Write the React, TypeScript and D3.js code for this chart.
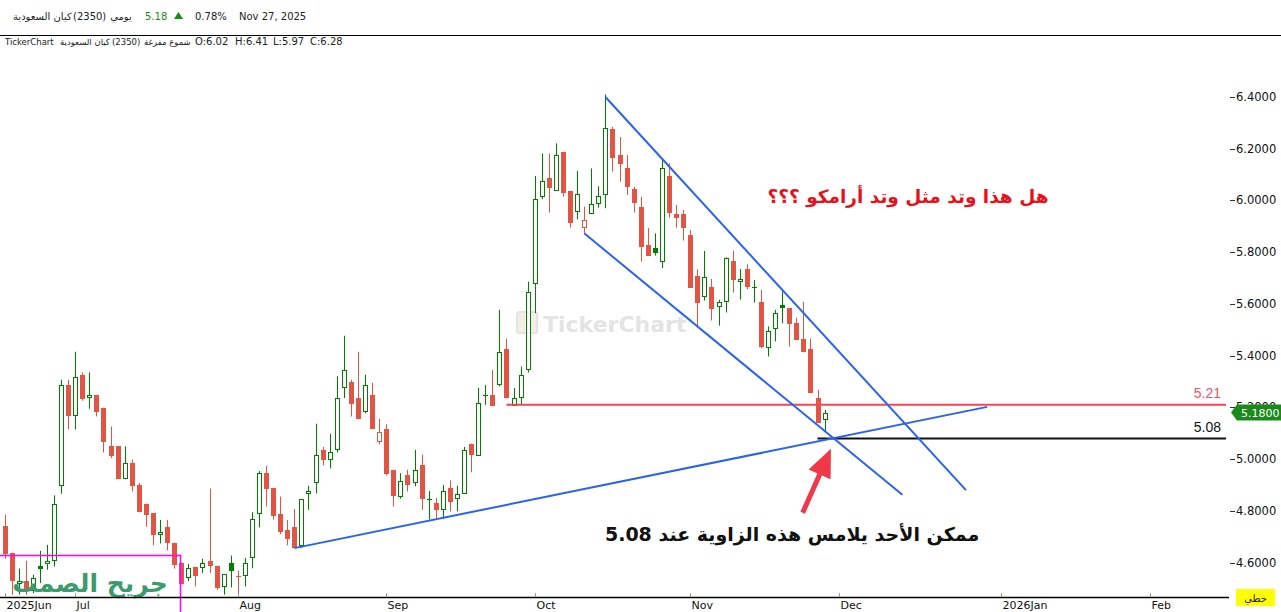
import React, { useEffect, useRef } from 'react';
import * as d3 from 'd3';

// daily candles, 2025 Jun -> Nov 27 (Tadawul trading days)
const opens = [
  4.74, 4.638, 4.517, 4.53, 4.489, 4.588, 4.595, 4.606, 4.896, 5.287,
  5.165, 5.326, 5.236, 5.249, 5.199, 5.049, 5.049, 4.922, 4.986, 4.899,
  4.828, 4.79, 4.705, 4.739, 4.677, 4.6, 4.54, 4.582, 4.579, 4.607,
  4.588, 4.506, 4.598, 4.549, 4.547, 4.616, 4.788, 4.946, 4.889, 4.789,
  4.727, 4.739, 4.665, 4.865, 4.906, 5.036, 4.996, 5.035, 5.275, 5.299,
  5.237, 5.184, 5.249, 5.065, 5.117, 4.959, 4.852, 4.94, 4.908, 4.978,
  4.845, 4.829, 4.804, 4.889, 4.846, 4.865, 5.06, 5.014, 5.247, 5.249,
  5.287, 5.425, 5.206, 5.236, 5.343, 5.676, 6.012, 6.086, 6.036, 6.188,
  6.037, 5.954, 5.893, 5.947, 5.985, 6.02, 6.275, 6.176, 6.124, 6.044,
  5.975, 5.828, 5.815, 5.764, 6.095, 5.948, 5.948, 5.867, 5.708, 5.628,
  5.667, 5.587, 5.607, 5.766, 5.684, 5.735, 5.665, 5.608, 5.431, 5.502,
  5.596, 5.583, 5.528, 5.465, 5.426, 5.238, 5.15,
];
const highs = [
  4.785, 4.638, 4.577, 4.607, 4.553, 4.646, 4.669, 4.86, 5.307, 5.307,
  5.415, 5.335, 5.335, 5.249, 5.199, 5.126, 5.049, 5.049, 4.998, 4.908,
  4.828, 4.79, 4.765, 4.765, 4.677, 4.6, 4.595, 4.582, 4.615, 4.886,
  4.588, 4.556, 4.627, 4.569, 4.618, 4.795, 4.954, 4.975, 4.889, 4.855,
  4.765, 4.807, 4.846, 4.897, 5.137, 5.047, 5.098, 5.32, 5.477, 5.307,
  5.415, 5.326, 5.295, 5.156, 5.135, 4.959, 4.946, 4.959, 5.036, 5.017,
  4.877, 4.85, 4.9, 4.918, 4.897, 5.047, 5.06, 5.276, 5.287, 5.345,
  5.577, 5.465, 5.275, 5.358, 5.686, 6.095, 6.182, 6.182, 6.221, 6.188,
  6.037, 6.114, 5.976, 6.124, 6.055, 6.41, 6.284, 6.245, 6.176, 6.053,
  6.014, 5.894, 5.873, 6.159, 6.144, 5.983, 5.963, 5.886, 5.734, 5.805,
  5.697, 5.616, 5.78, 5.805, 5.735, 5.753, 5.693, 5.654, 5.513, 5.577,
  5.654, 5.583, 5.547, 5.608, 5.465, 5.268, 5.19,
];
const lows = [
  4.615, 4.475, 4.476, 4.475, 4.482, 4.521, 4.573, 4.585, 4.866, 5.115,
  5.115, 5.226, 5.195, 5.165, 5.026, 5.004, 4.924, 4.922, 4.875, 4.794,
  4.738, 4.667, 4.674, 4.647, 4.577, 4.516, 4.528, 4.508, 4.56, 4.56,
  4.495, 4.476, 4.504, 4.47, 4.508, 4.578, 4.736, 4.817, 4.766, 4.71,
  4.667, 4.656, 4.656, 4.804, 4.868, 4.976, 4.964, 5.026, 5.236, 5.165,
  5.154, 5.177, 5.115, 5.058, 4.937, 4.817, 4.847, 4.875, 4.895, 4.804,
  4.766, 4.772, 4.768, 4.798, 4.798, 4.865, 4.949, 5.014, 5.21, 5.206,
  5.281, 5.236, 5.206, 5.21, 5.335, 5.564, 6.005, 5.953, 6.036, 6.015,
  5.895, 5.927, 5.873, 5.947, 5.972, 5.97, 6.112, 6.073, 6.021, 5.953,
  5.764, 5.787, 5.787, 5.738, 5.934, 5.895, 5.845, 5.663, 5.513, 5.613,
  5.536, 5.516, 5.567, 5.644, 5.617, 5.657, 5.605, 5.429, 5.397, 5.455,
  5.525, 5.435, 5.461, 5.413, 5.255, 5.14, 5.107,
];
const closes = [
  4.635, 4.528, 4.53, 4.489, 4.54, 4.575, 4.607, 4.828, 5.287, 5.165,
  5.317, 5.233, 5.248, 5.184, 5.065, 5.013, 4.924, 4.985, 4.895, 4.794,
  4.785, 4.705, 4.719, 4.674, 4.592, 4.516, 4.579, 4.547, 4.598, 4.585,
  4.502, 4.556, 4.566, 4.549, 4.598, 4.768, 4.946, 4.883, 4.779, 4.717,
  4.692, 4.656, 4.846, 4.877, 5.017, 4.995, 5.027, 5.236, 5.344, 5.214,
  5.154, 5.286, 5.115, 5.105, 4.944, 4.856, 4.914, 4.899, 4.959, 4.844,
  4.846, 4.804, 4.877, 4.835, 4.865, 5.036, 5.017, 5.217, 5.249, 5.206,
  5.416, 5.236, 5.238, 5.326, 5.645, 6.005, 6.075, 6.047, 6.175, 6.028,
  5.914, 6.024, 5.923, 5.985, 6.016, 6.28, 6.166, 6.141, 6.053, 5.992,
  5.822, 5.787, 5.796, 6.124, 5.953, 5.934, 5.895, 5.663, 5.605, 5.706,
  5.581, 5.608, 5.777, 5.693, 5.697, 5.665, 5.666, 5.435, 5.496, 5.564,
  5.583, 5.522, 5.461, 5.413, 5.255, 5.14, 5.18,
];

const monthLabels = ['2025Jun', 'Jul', 'Aug', 'Sep', 'Oct', 'Nov', 'Dec', '2026Jan', 'Feb'];
const monthIndex = [0, 10, 33, 54, 75, 97, 118, 141, 162];
const priceTicks = [4.6, 4.8, 5.0, 5.2, 5.4, 5.6, 5.8, 6.0, 6.2, 6.4];

// drawn trend lines: [startIndex, startPrice, endIndex, endPrice]
const supportLine = [41, 4.656, 139, 5.202];
const channelTop = [85, 6.4, 136, 4.88];
const channelBottom = [82, 5.873, 127, 4.862];
const redLevel = 5.21;
const redLevelFrom = 71;
const blackLevel = 5.08;
const blackLevelFrom = 115;
const lastPrice = 5.18;
// arrow: [tailIndex, tailPrice, tipIndex, tipPrice]
const arrow = [112.9, 4.793, 116.9, 5.04];

const GREEN = '#008000';
const RED = '#e25545';
const BLUE = '#2a64ec';
const W = 1281;
const H = 612;

const App: React.FC = () => {
    const ref = useRef<SVGSVGElement>(null);

    useEffect(() => {
        if (!ref.current) return;
        document.body.style.margin = '0';
        const svg = d3.select(ref.current);
        svg.selectAll('*').remove();

        const plotRight = 1226;
        const axisY = 597;
        const x = d3.scaleLinear().domain([0, 162]).range([4.5, 1149.8]);
        const y = d3.scaleLinear().domain([4.6, 6.4]).range([562.6, 97]);

        svg.append('rect').attr('width', W).attr('height', H).attr('fill', '#fff');

        // header
        const hdr = svg.append('g').style('font-family', 'DejaVu Sans').style('font-size', '10px').attr('fill', '#222');
        hdr.append('text').attr('x', 13).attr('y', 20).attr('direction', 'rtl').attr('text-anchor', 'end').text('كيان السعودية');
        hdr.append('text').attr('x', 73).attr('y', 20).text('(2350)');
        hdr.append('text').attr('x', 121).attr('y', 20).attr('text-anchor', 'middle').attr('direction', 'rtl').text('يومي');
        hdr.append('text').attr('x', 145).attr('y', 20).attr('fill', '#1a8a1a').text('5.18');
        hdr.append('path').attr('d', 'M174,19 L178.5,12 L183,19 Z').attr('fill', '#1a8a1a');
        hdr.append('text').attr('x', 195).attr('y', 20).text('0.78%');
        hdr.append('text').attr('x', 239).attr('y', 20).text('Nov 27, 2025');
        svg.append('line').attr('x1', 0).attr('x2', W).attr('y1', 35.5).attr('y2', 35.5).attr('stroke', '#000');

        const sub = svg.append('g').style('font-family', 'DejaVu Sans').style('font-size', '8.5px').attr('fill', '#222');
        sub.append('text').attr('x', 5).attr('y', 45).text('TickerChart');
        sub.append('text').attr('x', 60).attr('y', 45).attr('direction', 'rtl').attr('text-anchor', 'end').text('كيان السعودية');
        sub.append('text').attr('x', 112).attr('y', 45).text('(2350)');
        sub.append('text').attr('x', 144).attr('y', 45).attr('direction', 'rtl').attr('text-anchor', 'end').text('شموع مفرغة');
        const ohlc = ['O:6.02', 'H:6.41', 'L:5.97', 'C:6.28'];
        const ohlcX = [195, 235, 273, 310];
        ohlc.forEach((t, i) => sub.append('text').attr('x', ohlcX[i]).attr('y', 45).style('font-size', '10px').text(t));

        // watermark
        const wm = svg.append('g');
        wm.append('rect').attr('x', 517).attr('y', 312).attr('width', 20).attr('height', 21).attr('rx', 2)
            .attr('fill', '#f4efe2').attr('stroke', '#e4e4e4').attr('stroke-width', 2);
        wm.append('text').attr('x', 543).attr('y', 332).attr('fill', '#e4e4e4')
            .style('font-family', 'DejaVu Sans').style('font-weight', 'bold').style('font-size', '22px').text('TickerChart');

        // candles
        const g = svg.append('g');
        opens.forEach((o, i) => {
            const c = closes[i];
            const prev = i > 0 ? closes[i - 1] : o;
            const col = c >= prev && !(i === 0 && c < o) ? GREEN : RED;
            const cx = Math.round(x(i)) + 0.5;
            const top = Math.round(y(Math.max(o, c)));
            const bot = Math.round(y(Math.min(o, c)));
            g.append('line').attr('x1', cx).attr('x2', cx)
                .attr('y1', y(highs[i])).attr('y2', y(lows[i])).attr('stroke', col);
            if (c < o || bot - top < 2) {
                g.append('rect').attr('x', cx - 2.5).attr('y', top).attr('width', 5)
                    .attr('height', Math.max(1, bot - top)).attr('fill', col);
            } else {
                g.append('rect').attr('x', cx - 2).attr('y', top + 0.5).attr('width', 4)
                    .attr('height', bot - top - 1).attr('fill', '#fff').attr('stroke', col);
            }
        });

        // horizontal levels
        svg.append('line').attr('x1', x(redLevelFrom)).attr('x2', plotRight)
            .attr('y1', y(redLevel)).attr('y2', y(redLevel)).attr('stroke', '#f0465a').attr('stroke-width', 2);
        svg.append('line').attr('x1', x(blackLevelFrom)).attr('x2', plotRight)
            .attr('y1', y(blackLevel)).attr('y2', y(blackLevel)).attr('stroke', '#111').attr('stroke-width', 2);
        svg.append('text').attr('x', 1221).attr('y', y(redLevel) - 7).attr('text-anchor', 'end')
            .attr('fill', '#f0506a').style('font-family', 'Liberation Sans').style('font-size', '14px').text(redLevel.toFixed(2));
        svg.append('text').attr('x', 1221).attr('y', y(blackLevel) - 6).attr('text-anchor', 'end')
            .attr('fill', '#111').style('font-family', 'Liberation Sans').style('font-size', '14px').text(blackLevel.toFixed(2));

        // trend lines
        [supportLine, channelTop, channelBottom].forEach(l => {
            svg.append('line').attr('x1', x(l[0])).attr('y1', y(l[1])).attr('x2', x(l[2])).attr('y2', y(l[3]))
                .attr('stroke', BLUE).attr('stroke-width', 2);
        });

        // arrow
        const tx = x(arrow[0]), ty = y(arrow[1]), px = x(arrow[2]), py = y(arrow[3]);
        const len = Math.hypot(px - tx, py - ty);
        const ux = (px - tx) / len, uy = (py - ty) / len;
        const nx = -uy, ny = ux;
        const bx = px - 28 * ux, by = py - 28 * uy;
        const sw = 2.5, hw = 12;
        const pts = [
            [tx + nx * sw, ty + ny * sw], [bx + nx * sw, by + ny * sw], [bx + nx * hw, by + ny * hw],
            [px, py], [bx - nx * hw, by - ny * hw], [bx - nx * sw, by - ny * sw], [tx - nx * sw, ty - ny * sw],
        ];
        svg.append('path').attr('d', 'M' + pts.map(p => p.join(',')).join('L') + 'Z').attr('fill', '#f0384a');

        // annotations
        svg.append('text').attr('x', x(127.8)).attr('y', y(5.99)).attr('text-anchor', 'middle').attr('direction', 'rtl')
            .attr('fill', '#e8101a').style('font-family', 'DejaVu Sans').style('font-weight', 'bold').style('font-size', '18.5px')
            .text('هل هذا وتد مثل وتد أرامكو ؟؟؟');
        svg.append('text').attr('x', x(111.4)).attr('y', y(4.685)).attr('text-anchor', 'middle').attr('direction', 'rtl')
            .attr('fill', '#111').style('font-family', 'DejaVu Sans').style('font-weight', 'bold').style('font-size', '19px')
            .text('ممكن الأحد يلامس هذه الزاوية عند  5.08');

        // signature box
        svg.append('path').attr('d', 'M0,555.5 H180.5 V612').attr('fill', 'none').attr('stroke', '#ff00ff').attr('stroke-width', 1.5);
        svg.append('text').attr('x', 90).attr('y', 592).attr('text-anchor', 'middle').attr('direction', 'rtl')
            .attr('fill', '#3a9c6e').style('font-family', 'DejaVu Sans').style('font-weight', 'bold').style('font-size', '25px')
            .text('جريح الصمت');

        // price axis
        const ax = svg.append('g').style('font-family', 'DejaVu Sans').style('font-size', '11.5px').attr('fill', '#111');
        priceTicks.forEach(v => {
            ax.append('line').attr('x1', 1230).attr('x2', 1235).attr('y1', Math.round(y(v)) + 0.5).attr('y2', Math.round(y(v)) + 0.5).attr('stroke', '#333');
            ax.append('text').attr('x', 1236).attr('y', y(v) + 4).text(v.toFixed(4));
        });
        const ly = y(lastPrice);
        svg.append('path').attr('d', `M1231,${ly} L1237,${ly - 8} H1281 V${ly + 8} H1237 Z`).attr('fill', '#1a8a1a');
        svg.append('text').attr('x', 1241).attr('y', ly + 4).attr('fill', '#fff')
            .style('font-family', 'DejaVu Sans').style('font-size', '11px').text(lastPrice.toFixed(4));

        // time axis
        svg.append('line').attr('x1', 0).attr('x2', 1229).attr('y1', axisY + 0.5).attr('y2', axisY + 0.5).attr('stroke', '#000').attr('stroke-width', 1.5);
        const tx2 = svg.append('g').style('font-family', 'DejaVu Sans').style('font-size', '11px').attr('fill', '#111');
        monthIndex.forEach((m, i) => {
            const mx = Math.round(x(m)) + 0.5;
            tx2.append('line').attr('x1', mx).attr('x2', mx).attr('y1', axisY - 4).attr('y2', axisY).attr('stroke', '#999');
            tx2.append('text').attr('x', mx + 1).attr('y', 609).text(monthLabels[i]);
        });
        svg.append('rect').attr('x', 1236).attr('y', 589).attr('width', 39).attr('height', 17).attr('fill', '#ffff00');
        svg.append('text').attr('x', 1255.5).attr('y', 602).attr('text-anchor', 'middle').attr('direction', 'rtl')
            .style('font-family', 'DejaVu Sans').style('font-size', '10px').attr('fill', '#222').text('خطي');
    }, []);

    return <svg ref={ref} width={W} height={H} style={{ display: 'block' }} />;
};

export default App;
